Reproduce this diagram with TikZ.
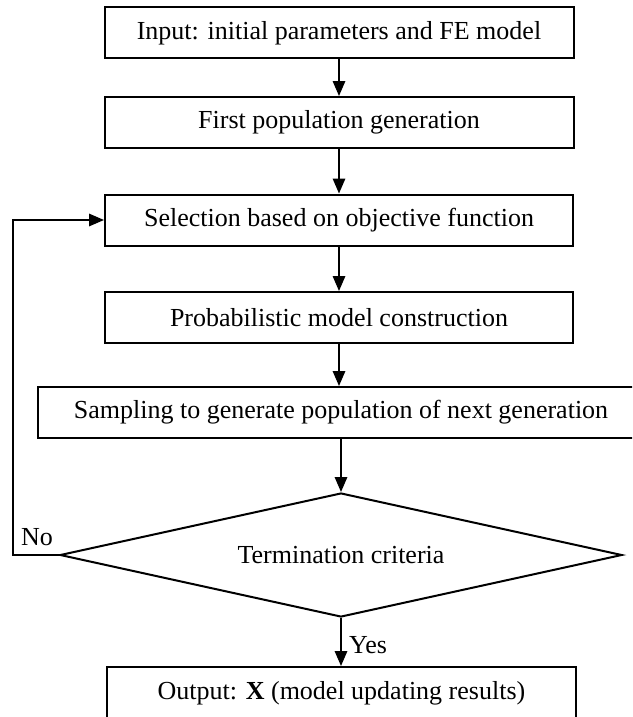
\documentclass[tikz,border=0pt]{standalone}
\usepackage{fontspec}
\setmainfont{Liberation Serif}
\usetikzlibrary{arrows.meta,shapes.geometric}
\begin{document}
\begin{tikzpicture}[x=1pt,y=-1pt,
  font=\fontsize{26}{31}\selectfont,
  box/.style={draw, line width=2pt, minimum height=51pt, inner sep=0pt},
  decision/.style={draw, diamond, aspect=4.5, line width=2pt, inner sep=0pt,
    minimum width=562pt, minimum height=124pt},
  arr/.style={line width=1.6pt, -{Triangle[length=15pt,width=12.5pt]}},
  lbl/.style={anchor=base west, inner sep=0pt}
]
\clip (0,0) rectangle (632,717);
\node[box, minimum width=469pt] (b1) at (339,33) {Input: initial parameters and FE model};
\node[box, minimum width=469pt] (b2) at (339,122.5) {First population generation};
\node[box, minimum width=468pt] (b3) at (339,220) {Selection based on objective function};
\node[box, minimum width=468pt] (b4) at (339,317.5) {Probabilistic model construction};
\node[box, minimum width=606pt] (b5) at (341,412.5) {Sampling to generate population of next generation};
\node[decision] (dia) at (341,555) {Termination criteria};
\node[box, minimum width=469pt, minimum height=52pt] (b6) at (341.5,693) {Output: \textbf{X} (model updating results)};
\coordinate (fb) at (13,555);

\draw[arr] (b1.south) -- (b1.south |- b2.north);
\draw[arr] (b2.south) -- (b2.south |- b3.north);
\draw[arr] (b3.south) -- (b3.south |- b4.north);
\draw[arr] (b4.south) -- (b4.south |- b5.north);
\draw[arr] (b5.south) -- (dia.north);
\draw[arr] (dia.south) -- (dia.south |- b6.north);
\draw[arr] (dia.west) -- (fb) |- (b3.west);

\node[lbl] (no) at (21,545) {No};
\node[lbl] (yes) at (349,653) {Yes};
\end{tikzpicture}
\end{document}
